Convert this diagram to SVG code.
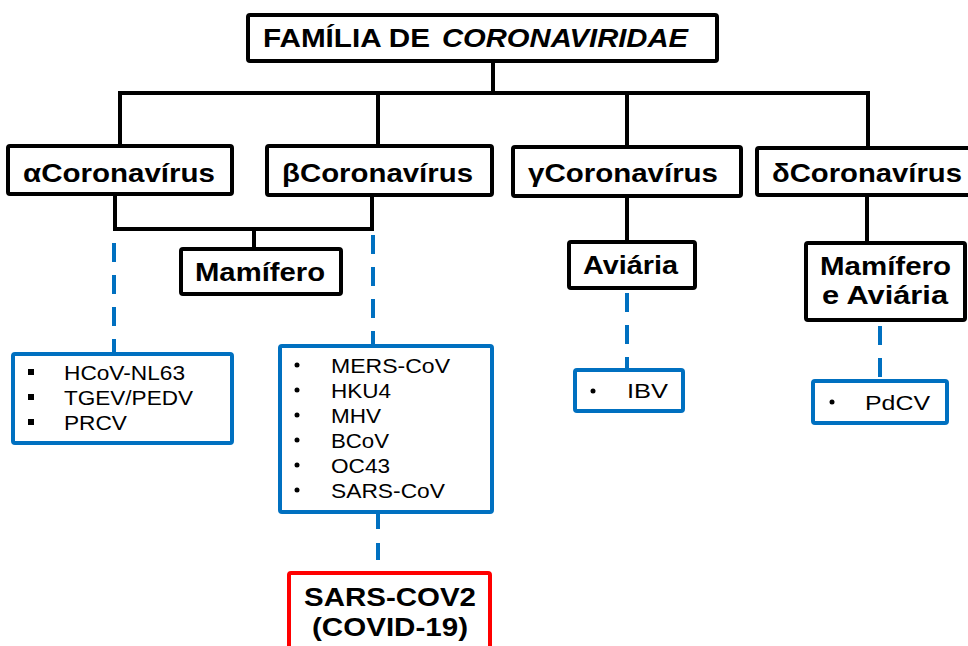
<svg xmlns="http://www.w3.org/2000/svg" width="968" height="646" viewBox="0 0 968 646">
<style>
.bk{fill:#fff;stroke:#000;stroke-width:4}
.bl{fill:#fff;stroke:#0070C0;stroke-width:4}
.rd{fill:#fff;stroke:#FF0000;stroke-width:4}
.ln{stroke:#000;stroke-width:4;fill:none;stroke-linecap:square}
.dl{stroke:#0070C0;stroke-width:4;fill:none;stroke-dasharray:19 13}
.h{font-family:"Liberation Sans",Arial,sans-serif;font-weight:bold;font-size:26px;fill:#000}
.t{font-family:"Liberation Sans",Arial,sans-serif;font-size:21px;fill:#000}
</style>
<rect width="968" height="646" fill="#fff"/>
<g id="connectors">
<path class="ln" d="M493 61V93M120 93H868M120 93V146M378 93V146M627 93V147M868 93V148"/>
<path class="ln" d="M115 194V229H372V195M254 229V249"/>
<path class="ln" d="M627 196V242M867 196V243"/>
<path class="dl" d="M114 243V355"/>
<path class="dl" d="M373 235V346"/>
<path class="dl" d="M627 293V370"/>
<path class="dl" d="M880 326V381"/>
<path class="dl" style="stroke-dasharray:17 14" d="M378 512V573"/>
</g>
<g id="familia">
<rect class="bk" x="248" y="15" width="469" height="46" rx="2"/>
<text class="h" x="263" y="47" font-size="26.5" textLength="167" lengthAdjust="spacingAndGlyphs">FAMÍLIA DE</text>
<text class="h" x="442" y="47" font-size="26.5" font-style="italic" textLength="246" lengthAdjust="spacingAndGlyphs">CORONAVIRIDAE</text>
</g>
<g id="alpha">
<rect class="bk" x="8" y="146" width="224" height="48" rx="2"/>
<text class="h" x="23" y="182" textLength="192" lengthAdjust="spacingAndGlyphs">αCoronavírus</text>
</g>
<g id="beta">
<rect class="bk" x="267" y="146" width="225" height="49" rx="2"/>
<text class="h" x="282" y="182" textLength="191" lengthAdjust="spacingAndGlyphs">βCoronavírus</text>
</g>
<g id="gamma">
<rect class="bk" x="513" y="147" width="228" height="49" rx="2"/>
<text class="h" x="528" y="182" textLength="190" lengthAdjust="spacingAndGlyphs">γCoronavírus</text>
</g>
<g id="delta">
<rect class="bk" x="757" y="148" width="214" height="47" rx="2"/>
<text class="h" x="772" y="182" textLength="190" lengthAdjust="spacingAndGlyphs">δCoronavírus</text>
</g>
<g id="mamifero">
<rect class="bk" x="181" y="249" width="160" height="45" rx="2"/>
<text class="h" x="195" y="281" textLength="130" lengthAdjust="spacingAndGlyphs">Mamífero</text>
</g>
<g id="aviaria">
<rect class="bk" x="569" y="242" width="126" height="46" rx="2"/>
<text class="h" x="583" y="274" textLength="95" lengthAdjust="spacingAndGlyphs">Aviária</text>
</g>
<g id="mamifero-aviaria">
<rect class="bk" x="806" y="243" width="159" height="77" rx="2"/>
<text class="h" x="820" y="275" textLength="131" lengthAdjust="spacingAndGlyphs">Mamífero</text>
<text class="h" x="822" y="304" textLength="126" lengthAdjust="spacingAndGlyphs">e Aviária</text>
</g>
<g id="alpha-list">
<rect class="bl" x="13" y="354" width="219" height="89" rx="2"/>
<rect x="28" y="369" width="6" height="6"/>
<rect x="28" y="394" width="6" height="6"/>
<rect x="28" y="419" width="6" height="6"/>
<text class="t" x="64" y="380" textLength="121" lengthAdjust="spacingAndGlyphs">HCoV-NL63</text>
<text class="t" x="64" y="405" textLength="129" lengthAdjust="spacingAndGlyphs">TGEV/PEDV</text>
<text class="t" x="64" y="430" textLength="63" lengthAdjust="spacingAndGlyphs">PRCV</text>
</g>
<g id="beta-list">
<rect class="bl" x="280" y="346" width="212" height="166" rx="2"/>
<g fill="#000">
<circle cx="297" cy="365" r="2.5"/><circle cx="297" cy="390" r="2.5"/><circle cx="297" cy="415" r="2.5"/>
<circle cx="297" cy="440" r="2.5"/><circle cx="297" cy="465" r="2.5"/><circle cx="297" cy="490" r="2.5"/>
</g>
<text class="t" x="331" y="373" textLength="119" lengthAdjust="spacingAndGlyphs">MERS-CoV</text>
<text class="t" x="331" y="398" textLength="60" lengthAdjust="spacingAndGlyphs">HKU4</text>
<text class="t" x="331" y="423" textLength="50" lengthAdjust="spacingAndGlyphs">MHV</text>
<text class="t" x="331" y="448" textLength="58" lengthAdjust="spacingAndGlyphs">BCoV</text>
<text class="t" x="331" y="473" textLength="59" lengthAdjust="spacingAndGlyphs">OC43</text>
<text class="t" x="331" y="498" textLength="114" lengthAdjust="spacingAndGlyphs">SARS-CoV</text>
</g>
<g id="ibv">
<rect class="bl" x="575" y="370" width="108" height="41" rx="2"/>
<circle cx="593" cy="391" r="2.5"/>
<text class="t" x="627" y="398" textLength="41" lengthAdjust="spacingAndGlyphs">IBV</text>
</g>
<g id="pdcv">
<rect class="bl" x="813" y="381" width="134" height="42" rx="2"/>
<circle cx="832" cy="402" r="2.5"/>
<text class="t" x="865" y="410" textLength="65" lengthAdjust="spacingAndGlyphs">PdCV</text>
</g>
<g id="sars-cov2">
<rect class="rd" x="289" y="573" width="201" height="90" rx="2"/>
<text class="h" x="304" y="606" font-size="26" textLength="172" lengthAdjust="spacingAndGlyphs">SARS-COV2</text>
<text class="h" x="312" y="636" font-size="26" textLength="156" lengthAdjust="spacingAndGlyphs">(COVID-19)</text>
</g>
</svg>
